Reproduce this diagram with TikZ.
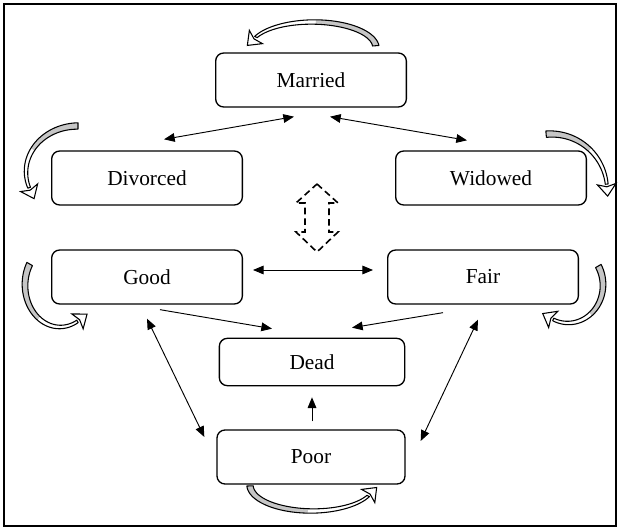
\documentclass[tikz,border=0pt]{standalone}
\usepackage{fontspec}
\setmainfont{Liberation Serif}
\usetikzlibrary{arrows.meta,calc}
\tikzset{
  state/.style={draw, line width=1pt, rounded corners=6pt, minimum height=40.5pt, font=\fontsize{16}{18}\selectfont, inner sep=0pt},
  conn/.style={line width=0.7pt, {Triangle[length=8pt,width=6.5pt]}-{Triangle[length=8pt,width=6.5pt]}},
  oneway/.style={line width=0.7pt, -{Triangle[length=8pt,width=6.5pt]}},
}
% curved band arrow: cx, cy, rx, ry, tail angle, head angle
\newcommand{\cvarrow}[6]{%
  \fill[white] plot[domain=0:1, samples=40] ({#1+(#3+3.2-1.8*\x)*cos(#5+(#6-(#5))*\x)},{#2+(#4+3.2-1.8*\x)*sin(#5+(#6-(#5))*\x)})
     -- plot[domain=1:0, samples=40] ({#1+(#3-3.2+1.8*\x)*cos(#5+(#6-(#5))*\x)},{#2+(#4-3.2+1.8*\x)*sin(#5+(#6-(#5))*\x)}) -- cycle;
  \fill[gray!45] plot[domain=0:0.55, samples=30] ({#1+(#3+3.2-1.8*\x)*cos(#5+(#6-(#5))*\x)},{#2+(#4+3.2-1.8*\x)*sin(#5+(#6-(#5))*\x)})
     -- plot[domain=0.55:0, samples=30] ({#1+(#3-3.2+1.8*\x)*cos(#5+(#6-(#5))*\x)},{#2+(#4-3.2+1.8*\x)*sin(#5+(#6-(#5))*\x)}) -- cycle;
  \draw[line width=0.8pt, line join=round] plot[domain=0:1, samples=40] ({#1+(#3+3.2-1.8*\x)*cos(#5+(#6-(#5))*\x)},{#2+(#4+3.2-1.8*\x)*sin(#5+(#6-(#5))*\x)})
     -- plot[domain=1:0, samples=40] ({#1+(#3-3.2+1.8*\x)*cos(#5+(#6-(#5))*\x)},{#2+(#4-3.2+1.8*\x)*sin(#5+(#6-(#5))*\x)}) -- cycle;
  \coordinate (cvB) at ({#1+#3*cos(#6)},{#2+#4*sin(#6)});
  \coordinate (cvP) at ({#1+#3*cos(#6+0.03*(#6-(#5)))},{#2+#4*sin(#6+0.03*(#6-(#5)))});
  \filldraw[fill=white, line width=0.8pt, line join=miter] ($(cvB)!7pt!90:(cvP)$) -- ($(cvB)!9pt!(cvP)$) -- ($(cvB)!7pt!-90:(cvP)$) -- ($(cvB)!2pt!(cvP)$) -- cycle;
}
\begin{document}
\begin{tikzpicture}[x=0.75pt, y=-0.75pt]
\useasboundingbox (0,0) rectangle (620,530);
\draw[line width=1.1pt] (4,4) rectangle (616,526);

\node[state, minimum width=143pt] (married) at (311,80) {Married};
\node[state, minimum width=143pt] (divorced) at (147,178) {Divorced};
\node[state, minimum width=143pt] (widowed) at (491,178) {Widowed};
\node[state, minimum width=143pt] (good) at (147,277) {Good};
\node[state, minimum width=143pt] (fair) at (483,277) {Fair};
\node[state, minimum width=139pt, minimum height=35.5pt] (dead) at (312,362) {Dead};
\node[state, minimum width=141pt] (poor) at (311,457) {Poor};

\draw[conn] ($(married.south)+(-17,9)$) -- ($(divorced.north)+(17,-11)$);
\draw[conn] ($(married.south)+(19,9)$) -- ($(widowed.north)+(-24,-10)$);
\draw[conn] ($(good.east)+(10,-7)$) -- ($(fair.west)+(-14,-7)$);
\draw[oneway] ($(good.south)+(13,5)$) -- ($(dead.north)+(-40,-9)$);
\draw[oneway] ($(fair.south)+(-40,8)$) -- ($(dead.north)+(40,-10)$);
\draw[conn] ($(good.south)+(0,14)$) -- ($(poor.west)+(-12,-20)$);
\draw[conn] ($(fair.south)+(-5,15)$) -- ($(poor.east)+(15,-16)$);
\draw[oneway] ($(poor.north)+(1,-8)$) -- ($(dead.south)+(0,11)$);

% dashed double arrow
\draw[line width=1.2pt, dash pattern=on 5pt off 3pt]
  (317,184) -- (338,203) -- (329,203) -- (329,232) -- (338,232) -- (317,252)
  -- (296,232) -- (305,232) -- (305,203) -- (296,203) -- cycle;

% curved arrows
\cvarrow{313}{48}{63}{26}{-5}{-155}
\cvarrow{78}{172}{52}{46}{-90}{-200}
\cvarrow{551}{190}{56}{56}{-95}{-6}
\cvarrow{60}{285}{35}{42}{-150}{-300}
\cvarrow{568}{285}{35}{38}{-30}{115}
\cvarrow{312}{485}{62}{26}{178}{25}
\end{tikzpicture}
\end{document}
